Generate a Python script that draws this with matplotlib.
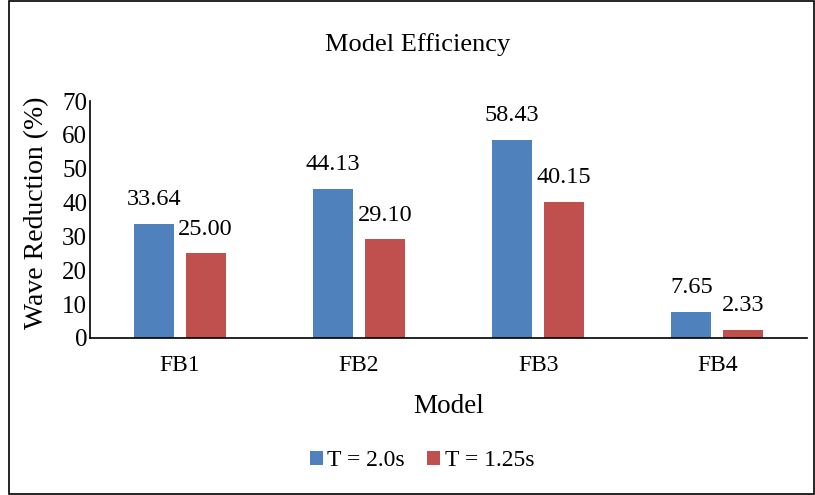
import matplotlib
matplotlib.use("Agg")
import matplotlib.pyplot as plt
from matplotlib.patches import Rectangle
import numpy as np

categories = ["FB1", "FB2", "FB3", "FB4"]
t20 = [33.64, 44.13, 58.43, 7.65]
t125 = [25.00, 29.10, 40.15, 2.33]
series_names = ["T = 2.0s", "T = 1.25s"]
yticks = [0, 10, 20, 30, 40, 50, 60, 70]

plt.rcParams['font.family'] = ['Liberation Serif', 'DejaVu Serif']

fig = plt.figure(figsize=(8.15, 4.95), dpi=100)
ax = fig.add_axes([90/815, 1 - 338/495, (807-90)/815, (338-101)/495])

x = np.arange(len(categories))
w = 0.223
off = 0.145
blue = "#4F81BD"
red = "#C0504D"
b1 = ax.bar(x - off, t20, w, color=blue, label=series_names[0])
b2 = ax.bar(x + off, t125, w, color=red, label=series_names[1])

for rects, vals in ((b1, t20), (b2, t125)):
    for r, v in zip(rects, vals):
        ax.annotate(f"{v:.2f}", (r.get_x() + r.get_width()/2, v),
                    xytext=(0, 17.5), textcoords="offset points",
                    ha="center", va="center", fontsize=17.5)

ax.set_xlim(-0.5, 3.5)
ax.set_ylim(0, 70)
ax.set_yticks(yticks)
ax.set_xticks(x)
ax.set_xticklabels(categories)
ax.tick_params(axis="both", length=0)
ax.tick_params(axis="y", labelsize=18, pad=2)
ax.tick_params(axis="x", labelsize=17, pad=12)
for s in ("top", "right"):
    ax.spines[s].set_visible(False)
for s in ("left", "bottom"):
    ax.spines[s].set_color("black")
    ax.spines[s].set_linewidth(1.2)

ax.set_xlabel("Model", fontsize=19.5, labelpad=13)
ax.set_ylabel("Wave Reduction (%)", fontsize=20)
ax.yaxis.set_label_coords(-0.057, 0.53)
fig.text(418/815, 1 - 45/495, "Model Efficiency", ha="center", va="center", fontsize=19)

leg = fig.legend(handles=[b1, b2], loc="center", bbox_to_anchor=(422/815, 1 - 461/495),
                 ncol=2, frameon=False, fontsize=17, handlelength=0.55, handleheight=0.55,
                 handletextpad=0.2, columnspacing=0.95)

fig.add_artist(Rectangle((9/815, 0.002), (814-9)/815, 0.996, transform=fig.transFigure,
                         fill=False, edgecolor="black", linewidth=1.2))

fig.savefig("out.png", dpi=100)
